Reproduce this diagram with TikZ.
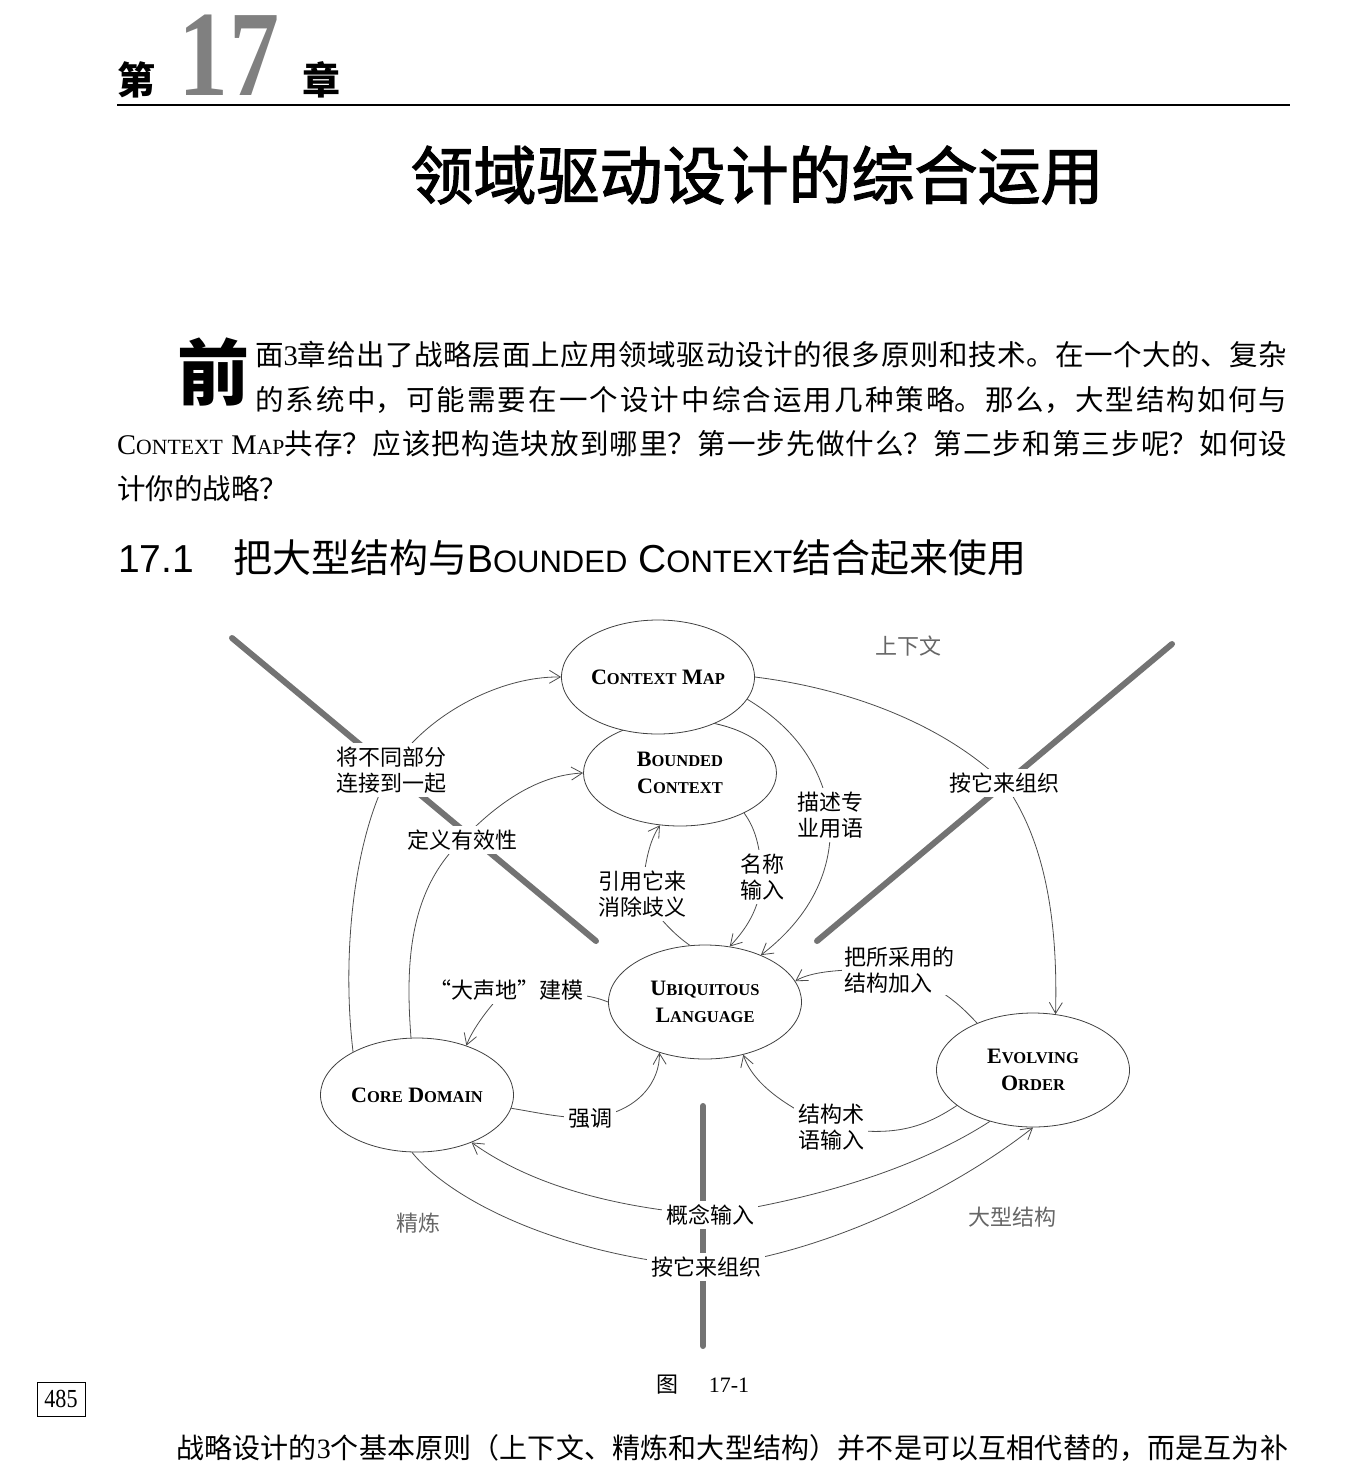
\documentclass[tikz,border=0pt]{standalone}
\usepackage{fontspec}
\usepackage{graphicx}
\setmainfont{Liberation Serif}
\newfontfamily\cjk{Noto Sans CJK SC}
\newfontfamily\cjkmid{Noto Sans CJK SC}[FakeBold=2]
\newfontfamily\latinsans{Liberation Sans}
\usetikzlibrary{shapes.geometric,arrows.meta,backgrounds}
\XeTeXlinebreaklocale "zh"
\XeTeXlinebreakskip=0pt plus 3pt
\newcommand\capsc[3]{#2{\fontsize{#1}{#1}\selectfont #3}}

\begin{document}
\begin{tikzpicture}[
  x=1pt, y=-1pt,
  body/.style={anchor=base west, inner sep=0pt, align=justify,
    font=\cjk\fontsize{28.5}{45}\selectfont},
  concept/.style={ellipse, draw=black!75, line width=0.8pt, fill=white,
    minimum width=193pt, minimum height=114pt, inner sep=0pt, align=center,
    font=\rmfamily\bfseries\fontsize{22}{27}\selectfont},
  note/.style={fill=white, inner sep=4pt, align=center,
    font=\cjk\fontsize{22}{26}\selectfont},
  area/.style={text=black!60, font=\cjk\fontsize{22}{26}\selectfont},
  link/.style={draw=black!70, line width=0.8pt,
    -{Straight Barb[length=11pt,width=13pt]}},
  zone/.style={draw=black!55, line width=6pt, line cap=round}
]
\useasboundingbox (0,0) rectangle (1353,1476);

% chapter head
\node[font=\cjk\bfseries\fontsize{38}{38}\selectfont] (chapA) at (136,80) {第};
\node[anchor=base, inner sep=0pt, text height=84pt, text=black!50,
  font=\rmfamily\bfseries\fontsize{122}{122}\selectfont] (chapnum) at (229,95) {\scalebox{0.82}[1]{17}};
\node[font=\cjk\bfseries\fontsize{38}{38}\selectfont] (chapB) at (321,80) {章};
\draw[line width=2pt] (117,105) -- (1290,105);
\node[font=\cjkmid\fontsize{63}{63}\selectfont] (title) at (757,175) {领域驱动设计的综合运用};

% opening paragraph
\node[font=\cjk\bfseries\fontsize{72}{72}\selectfont, inner sep=0pt] (dropcap) at (213,372) {前};
\node[body, text width=1032pt] (intro) at (255,365) {\parfillskip=0pt
  面{\rmfamily 3}章给出了战略层面上应用领域驱动设计的很多原则和技术。在一个大的、复杂\linebreak
  的系统中，可能需要在一个设计中综合运用几种策略。那么，大型结构如何与\par};
\node[body, text width=1170pt] (introrest) at (117,454) {
  {\rmfamily\capsc{21.7}{C}{ONTEXT} \capsc{21.7}{M}{AP}}共存？应该把构造块放到哪里？第一步先做什么？第二步和第三步呢？如何设\linebreak
  计你的战略？};

\node[anchor=base west, inner sep=0pt, font=\cjk\fontsize{39}{39}\selectfont] (section) at (118,572)
  {{\latinsans 17.1}\hspace{39pt}把大型结构与{\latinsans\capsc{31}{B}{OUNDED} \capsc{31}{C}{ONTEXT}}结合起来使用};

% concepts
\node[concept, minimum height=106pt] (bctx) at (680,773) {\capsc{16.5}{B}{OUNDED}\\\capsc{16.5}{C}{ONTEXT}};
\node[concept] (cmap) at (658,677) {\capsc{16.5}{C}{ONTEXT} \capsc{16.5}{M}{AP}};
\node[concept] (ulang) at (705,1002) {\capsc{16.5}{U}{BIQUITOUS}\\\capsc{16.5}{L}{ANGUAGE}};
\node[concept] (core) at (417,1095) {\capsc{16.5}{C}{ORE} \capsc{16.5}{D}{OMAIN}};
\node[concept] (evord) at (1033,1070) {\capsc{16.5}{E}{VOLVING}\\\capsc{16.5}{O}{RDER}};

% relation labels
\node[note] (lJoin) at (391,770) {将不同部分\\连接到一起};
\node[note] (lValid) at (462,840) {定义有效性};
\node[note] (lRef) at (642,894) {引用它来\\消除歧义};
\node[note] (lName) at (762,877) {名称\\输入};
\node[note] (lDesc) at (830,815) {描述专\\业用语};
\node[note] (lOrgTop) at (1004,783) {按它来组织};
\node[note, align=left, inner sep=2pt] (lAdd) at (899,970) {把所采用的\\结构加入};
\node[note] (lLoud) at (506,990) {“大声地”建模};
\node[note] (lStress) at (590,1118) {强调};
\node[note] (lTerm) at (831,1127) {结构术\\语输入};
\node[note] (lConc) at (710,1215) {概念输入};
\node[note] (lOrgBot) at (706,1267) {按它来组织};

\node[area] (aCtx) at (908,646) {上下文};
\node[area] (aDist) at (418,1223) {精炼};
\node[area] (aLarge) at (1012,1217) {大型结构};

\coordinate (zoneNW) at (232,638);
\coordinate (zoneNWend) at (596,941);
\coordinate (zoneNE) at (1172,644);
\coordinate (zoneNEend) at (817,941);
\coordinate (zoneS) at (703,1106);
\coordinate (zoneSend) at (703,1346);

\begin{scope}[on background layer]
  \draw[zone] (zoneNW) -- (zoneNWend);
  \draw[zone] (zoneNE) -- (zoneNEend);
  \draw[zone] (zoneS) -- (zoneSend);

  \draw[link] (core.146) .. controls (342,960) and (352,840) .. (lJoin.center)
    .. controls (425,715) and (500,676) .. (cmap.west);
  \draw[link] (core.96) .. controls (405,960) and (410,890) .. (lValid.center)
    .. controls (500,800) and (540,775) .. (bctx.west);
  \draw[link] (cmap.east) .. controls (860,690) and (950,730) .. (lOrgTop.center)
    .. controls (1045,840) and (1058,920) .. (evord.68);
  \draw[link] (cmap.-14) .. controls (790,725) and (820,760) .. (lDesc.center)
    .. controls (835,880) and (800,925) .. (ulang.40);
  \draw[link] (bctx.-32) .. controls (755,828) and (760,845) .. (lName.center)
    .. controls (760,910) and (745,930) .. (ulang.66);
  \draw[link] (ulang.105) .. controls (675,935) and (660,920) .. (lRef.center)
    .. controls (645,860) and (650,840) .. (bctx.-111);
  \draw[link] (evord.140) .. controls (960,1005) and (945,990) .. (lAdd.center)
    .. controls (840,968) and (810,972) .. (ulang.13);
  \draw[link] (ulang.west) .. controls (595,997) and (585,993) .. (lLoud.center)
    .. controls (490,1005) and (472,1030) .. (core.45);
  \draw[link] (core.-8) .. controls (540,1113) and (560,1118) .. (lStress.center)
    .. controls (640,1112) and (660,1080) .. (ulang.228);
  \draw[link] (evord.205) .. controls (920,1130) and (890,1137) .. (lTerm.center)
    .. controls (770,1100) and (750,1075) .. (ulang.-54);
  \draw[link] (evord.230) .. controls (930,1160) and (840,1195) .. (lConc.center)
    .. controls (580,1205) and (510,1170) .. (core.-41);
  \draw[link] (core.-95) .. controls (450,1200) and (560,1255) .. (lOrgBot.center)
    .. controls (850,1250) and (980,1170) .. (evord.south);
\end{scope}

% caption and page foot
\node[font=\rmfamily\fontsize{22}{22}\selectfont] (caption) at (703,1385) {{\cjk 图}\hspace{30pt}17-1};
\node[draw, line width=1pt, minimum width=48pt, minimum height=34pt, inner sep=0pt,
  font=\rmfamily\fontsize{26}{26}\selectfont] (pageno) at (61,1399) {\scalebox{0.85}[1]{485}};
\node[anchor=base west, inner sep=0pt, text width=1112pt, align=justify,
  font=\cjk\fontsize{28}{34}\selectfont] (nextpara) at (176,1458)
  {\parfillskip=0pt 战略设计的{\rmfamily 3}个基本原则（上下文、精炼和大型结构）并不是可以互相代替的，而是互为补\par};
\end{tikzpicture}
\end{document}
